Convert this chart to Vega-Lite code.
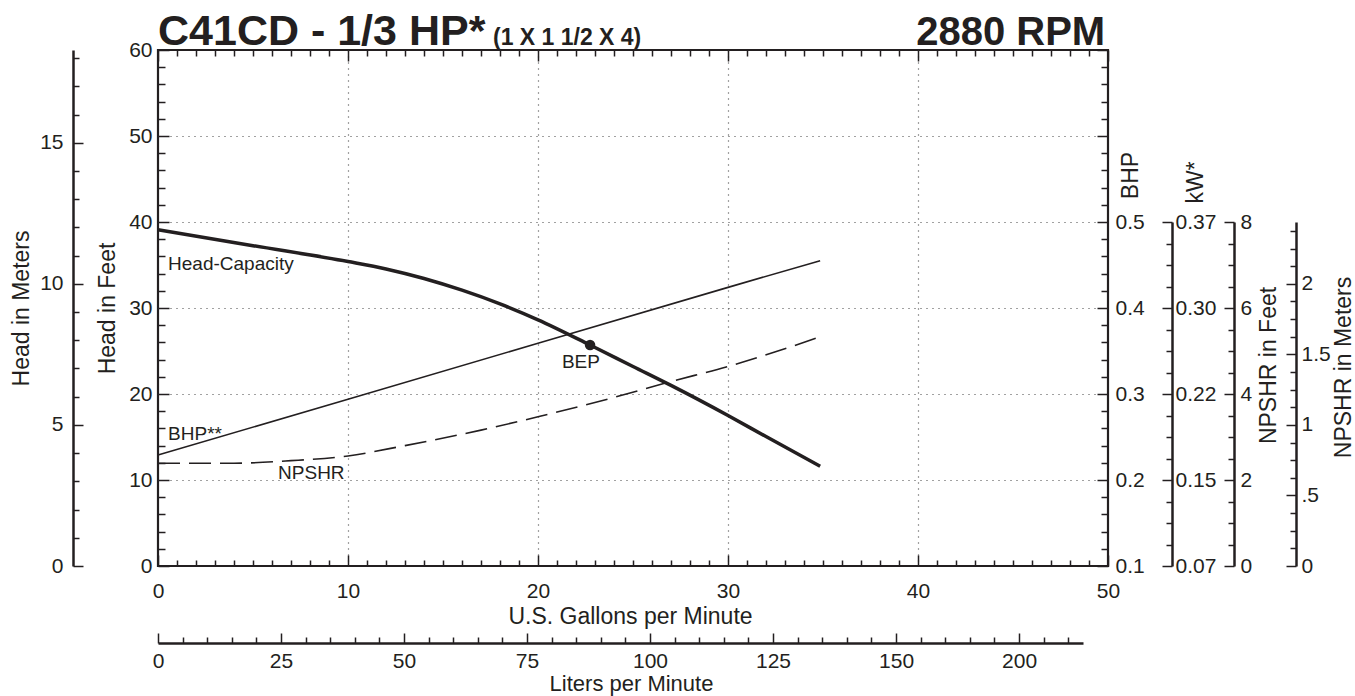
{
  "$schema": "https://vega.github.io/schema/vega-lite/v6.json",
  "width": 950,
  "height": 516,
  "autosize": {"type": "none"},
  "padding": {"left": 158, "top": 50, "right": 247, "bottom": 130},
  "background": "white",
  "config": {
    "view": {"stroke": "#231f20", "strokeWidth": 2.2},
    "axis": {
      "labelFont": "Liberation Sans", "labelFontSize": 21, "labelColor": "#231f20",
      "titleFont": "Liberation Sans", "titleFontSize": 23, "titleFontWeight": "normal", "titleColor": "#231f20",
      "tickColor": "#231f20", "tickWidth": 1.5, "domainColor": "#231f20", "domainWidth": 2.5,
      "labelFlush": false, "labelOverlap": false, "labelBound": false, "grid": false
    },
    "text": {"font": "Liberation Sans", "color": "#231f20"}
  },
  "datasets": {
    "head": [
      {"gpm": 0, "feet": 39.1}, {"gpm": 5, "feet": 37.25}, {"gpm": 10, "feet": 35.4}, {"gpm": 12, "feet": 34.54},
      {"gpm": 14, "feet": 33.43}, {"gpm": 16, "feet": 32.07}, {"gpm": 18, "feet": 30.48}, {"gpm": 20, "feet": 28.63},
      {"gpm": 22.74, "feet": 25.7}, {"gpm": 25, "feet": 23.2}, {"gpm": 27, "feet": 21.0}, {"gpm": 30, "feet": 17.5},
      {"gpm": 32, "feet": 15.05}, {"gpm": 34.85, "feet": 11.6}
    ],
    "bhp": [
      {"gpm": 0, "bhp": 0.229}, {"gpm": 10, "bhp": 0.294}, {"gpm": 20, "bhp": 0.359}, {"gpm": 30, "bhp": 0.424}, {"gpm": 34.85, "bhp": 0.455}
    ],
    "npshr": [
      {"gpm": 0, "feet": 2.39}, {"gpm": 4, "feet": 2.39}, {"gpm": 7, "feet": 2.45}, {"gpm": 10, "feet": 2.56},
      {"gpm": 13, "feet": 2.8}, {"gpm": 17, "feet": 3.16}, {"gpm": 20, "feet": 3.47}, {"gpm": 24, "feet": 3.92},
      {"gpm": 27, "feet": 4.29}, {"gpm": 30, "feet": 4.64}, {"gpm": 32.5, "feet": 4.98}, {"gpm": 34.85, "feet": 5.33}
    ],
    "bep": [{"gpm": 22.74, "feet": 25.7}],
    "notes": [
      {"label": "Head-Capacity", "gpm": 0.53, "feet": 34.4},
      {"label": "BHP**", "gpm": 0.53, "feet": 14.65},
      {"label": "NPSHR", "gpm": 6.32, "feet": 10.08},
      {"label": "BEP", "gpm": 21.26, "feet": 22.99}
    ]
  },
  "resolve": {"scale": {"x": "independent", "y": "independent"}},
  "layer": [
    {
      "data": {"name": "head"},
      "mark": {"type": "line", "color": "#231f20", "strokeWidth": 3.5, "interpolate": "monotone"},
      "encoding": {
        "x": {"field": "gpm", "type": "quantitative", "scale": {"domain": [0, 50]},
          "axis": {
            "title": "U.S. Gallons per Minute", "titleX": 472, "titleY": 50, "titleBaseline": "middle",
            "values": [0,1,2,3,4,5,6,7,8,9,10,11,12,13,14,15,16,17,18,19,20,21,22,23,24,25,26,27,28,29,30,31,32,33,34,35,36,37,38,39,40,41,42,43,44,45,46,47,48,49,50],
            "domain": false,
            "tickSize": {"condition": {"test": "datum.value % 10 === 0", "value": -11}, "value": -6},
            "labelExpr": "datum.value % 10 === 0 ? format(datum.value, 'd') : ''",
            "labelPadding": 25,
            "grid": true, "gridDash": [1, 5], "gridColor": "#444", "gridWidth": 1.2,
            "gridOpacity": {"condition": {"test": "datum.value % 10 === 0 && datum.value > 0 && datum.value < 50", "value": 1}, "value": 0}
          }},
        "y": {"field": "feet", "type": "quantitative", "scale": {"domain": [0, 60]},
          "axis": {
            "title": "Head in Feet", "titleX": -51, "titleY": 258, "titleAngle": -90, "titleAlign": "center", "titleBaseline": "middle",
            "values": [0,2,4,6,8,10,12,14,16,18,20,22,24,26,28,30,32,34,36,38,40,42,44,46,48,50,52,54,56,58,60],
            "domain": false,
            "tickSize": {"condition": {"test": "datum.value % 10 === 0", "value": -11}, "value": -7},
            "labelExpr": "datum.value % 10 === 0 ? format(datum.value, 'd') : ''",
            "labelPadding": 17,
            "grid": true, "gridDash": [1, 5], "gridColor": "#444", "gridWidth": 1.2,
            "gridOpacity": {"condition": {"test": "datum.value % 10 === 0 && datum.value > 0 && datum.value < 60", "value": 1}, "value": 0}
          }}
      }
    },
    {
      "data": {"name": "bhp"},
      "mark": {"type": "line", "color": "#231f20", "strokeWidth": 1.6},
      "encoding": {
        "x": {"field": "gpm", "type": "quantitative", "scale": {"domain": [0, 50]},
          "axis": {
            "orient": "top", "title": null, "labels": false, "domain": false,
            "values": [0,1,2,3,4,5,6,7,8,9,10,11,12,13,14,15,16,17,18,19,20,21,22,23,24,25,26,27,28,29,30,31,32,33,34,35,36,37,38,39,40,41,42,43,44,45,46,47,48,49,50],
            "tickSize": {"condition": {"test": "datum.value % 10 === 0", "value": -11}, "value": -6}
          }},
        "y": {"field": "bhp", "type": "quantitative", "scale": {"domain": [0.1, 0.7]},
          "axis": {
            "orient": "right", "title": "BHP", "titleX": 22, "titleY": 125, "titleAngle": -90, "titleAlign": "center", "titleBaseline": "middle",
            "values": [0.1,0.12,0.14,0.16,0.18,0.2,0.22,0.24,0.26,0.28,0.3,0.32,0.34,0.36,0.38,0.4,0.42,0.44,0.46,0.48,0.5,0.52,0.54,0.56,0.58,0.6,0.62,0.64,0.66,0.68,0.7],
            "domain": false,
            "tickSize": {"condition": {"test": "abs(datum.value*10 - round(datum.value*10)) < 0.001", "value": -11}, "value": -7},
            "labelExpr": "abs(datum.value*10 - round(datum.value*10)) < 0.001 && datum.value < 0.55 ? format(datum.value, '.1f') : ''",
            "labelPadding": 18
          }}
      }
    },
    {
      "data": {"name": "bhp"},
      "mark": {"type": "line", "strokeOpacity": 0},
      "encoding": {
        "x": {"field": "gpm", "type": "quantitative", "scale": {"domain": [0, 50]}, "axis": null},
        "y": {"field": "bhp", "type": "quantitative", "scale": {"domain": [0.1, 0.5], "range": [516, 172]},
          "axis": {
            "orient": "right", "offset": 64, "title": "kW*", "titleX": 23, "titleY": 132, "titleAngle": -90, "titleAlign": "center", "titleBaseline": "middle",
            "values": [0.1,0.125,0.15,0.175,0.2,0.225,0.25,0.275,0.3,0.325,0.35,0.375,0.4,0.425,0.45,0.475,0.5],
            "tickSize": {"condition": {"test": "abs(datum.value*10 - round(datum.value*10)) < 0.001", "value": -10}, "value": -6},
            "labelExpr": "abs(datum.value*10 - round(datum.value*10)) < 0.001 ? format(datum.value*0.746, '.2f') : ''",
            "labelPadding": 13
          }}
      }
    },
    {
      "data": {"name": "npshr"},
      "mark": {"type": "line", "color": "#231f20", "strokeWidth": 1.6, "strokeDash": [22, 9], "interpolate": "monotone"},
      "encoding": {
        "x": {"field": "gpm", "type": "quantitative", "scale": {"domain": [0, 50]}, "axis": null},
        "y": {"field": "feet", "type": "quantitative", "scale": {"domain": [0, 8], "range": [516, 172]},
          "axis": {
            "orient": "right", "offset": 126, "title": "NPSHR in Feet", "titleX": 34, "titleY": 315, "titleAngle": -90, "titleAlign": "center", "titleBaseline": "middle",
            "values": [0,0.5,1,1.5,2,2.5,3,3.5,4,4.5,5,5.5,6,6.5,7,7.5,8],
            "tickSize": {"condition": {"test": "datum.value % 2 === 0", "value": -10}, "value": -6},
            "labelExpr": "datum.value % 2 === 0 ? format(datum.value, 'd') : ''",
            "labelPadding": 16
          }}
      }
    },
    {
      "data": {"name": "npshr"},
      "mark": {"type": "line", "strokeOpacity": 0},
      "encoding": {
        "x": {"field": "gpm", "type": "quantitative", "scale": {"domain": [0, 50]}, "axis": null},
        "y": {"field": "feet", "type": "quantitative", "scale": {"domain": [0, 8], "range": [516, 172]},
          "axis": {
            "orient": "right", "offset": 188, "title": "NPSHR in Meters", "titleX": 47, "titleY": 317, "titleAngle": -90, "titleAlign": "center", "titleBaseline": "middle",
            "values": [0,0.410105,0.82021,1.230315,1.64042,2.050525,2.46063,2.870735,3.28084,3.690945,4.10105,4.511155,4.92126,5.331365,5.74147,6.151575,6.56168,6.971785,7.38189,7.791995],
            "tickSize": {"condition": {"test": "round(datum.value/0.410105) % 4 === 0", "value": -10}, "value": -6},
            "labelExpr": "round(datum.value/0.410105) % 4 !== 0 ? '' : (round(datum.value/0.410105) === 4 ? '.5' : format(round(datum.value/0.410105)/8, '~g'))",
            "labelPadding": 15
          }}
      }
    },
    {
      "data": {"name": "head"},
      "mark": {"type": "line", "strokeOpacity": 0},
      "encoding": {
        "x": {"field": "gpm", "type": "quantitative", "scale": {"domain": [0, 49.664], "range": [0, 925]},
          "axis": {
            "orient": "bottom", "offset": 77, "title": "Liters per Minute", "titleFontSize": 22, "titleX": 473, "titleY": 47, "titleBaseline": "alphabetic",
            "values": [0,1.32086,2.64172,3.96258,5.28344,6.6043,7.92516,9.24602,10.56688,11.88774,13.2086,14.52946,15.85032,17.17118,18.49204,19.8129,21.13376,22.45462,23.77548,25.09634,26.4172,27.73806,29.05892,30.37978,31.70064,33.0215,34.34236,35.66322,36.98408,38.30494,39.6258,40.94666,42.26752,43.58838,44.90924,46.2301,47.55096,48.87182],
            "tickSize": {"condition": {"test": "round(datum.value/0.264172) % 25 === 0", "value": -10}, "value": -6},
            "labelExpr": "round(datum.value/0.264172) % 25 !== 0 ? '' : (round(datum.value/0.264172) === 175 ? '200' : format(round(datum.value/0.264172), 'd'))",
            "labelPadding": 17
          }},
        "y": {"field": "feet", "type": "quantitative", "scale": {"domain": [0, 60]},
          "axis": {
            "orient": "left", "offset": 85, "title": "Head in Meters", "titleX": -52, "titleY": 258, "titleAngle": -90, "titleAlign": "center", "titleBaseline": "middle",
            "values": [0,3.28084,6.56168,9.84252,13.12336,16.4042,19.68504,22.96588,26.24672,29.52756,32.8084,36.08924,39.37008,42.65092,45.93176,49.2126,52.49344,55.77428,59.05512],
            "tickSize": {"condition": {"test": "round(datum.value/3.28084) % 5 === 0", "value": -10}, "value": -6},
            "labelExpr": "round(datum.value/3.28084) % 5 === 0 ? format(round(datum.value/3.28084), 'd') : ''",
            "labelPadding": 20
          }}
      }
    },
    {
      "data": {"name": "bep"},
      "mark": {"type": "point", "filled": true, "size": 110, "color": "#231f20", "opacity": 1},
      "encoding": {
        "x": {"field": "gpm", "type": "quantitative", "scale": {"domain": [0, 50]}, "axis": null},
        "y": {"field": "feet", "type": "quantitative", "scale": {"domain": [0, 60]}, "axis": null}
      }
    },
    {
      "data": {"name": "notes"},
      "mark": {"type": "text", "align": "left", "baseline": "alphabetic", "fontSize": 19},
      "encoding": {
        "x": {"field": "gpm", "type": "quantitative", "scale": {"domain": [0, 50]}, "axis": null},
        "y": {"field": "feet", "type": "quantitative", "scale": {"domain": [0, 60]}, "axis": null},
        "text": {"field": "label"}
      }
    },
    {
      "data": {"values": [{"label": "C41CD - 1/3 HP*", "gpm": 0, "feet": 60}]},
      "mark": {"type": "text", "align": "left", "baseline": "alphabetic", "fontSize": 43, "fontWeight": "bold", "dy": -5},
      "encoding": {
        "x": {"field": "gpm", "type": "quantitative", "scale": {"domain": [0, 50]}, "axis": null},
        "y": {"field": "feet", "type": "quantitative", "scale": {"domain": [0, 60]}, "axis": null},
        "text": {"field": "label"}
      }
    },
    {
      "data": {"values": [{"label": "(1 X 1 1/2 X 4)", "gpm": 17.63, "feet": 60}]},
      "mark": {"type": "text", "align": "left", "baseline": "alphabetic", "fontSize": 23, "fontWeight": "bold", "dy": -5},
      "encoding": {
        "x": {"field": "gpm", "type": "quantitative", "scale": {"domain": [0, 50]}, "axis": null},
        "y": {"field": "feet", "type": "quantitative", "scale": {"domain": [0, 60]}, "axis": null},
        "text": {"field": "label"}
      }
    },
    {
      "data": {"values": [{"label": "2880 RPM", "gpm": 49.85, "feet": 60}]},
      "mark": {"type": "text", "align": "right", "baseline": "alphabetic", "fontSize": 40, "fontWeight": "bold", "dy": -5},
      "encoding": {
        "x": {"field": "gpm", "type": "quantitative", "scale": {"domain": [0, 50]}, "axis": null},
        "y": {"field": "feet", "type": "quantitative", "scale": {"domain": [0, 60]}, "axis": null},
        "text": {"field": "label"}
      }
    }
  ]
}
